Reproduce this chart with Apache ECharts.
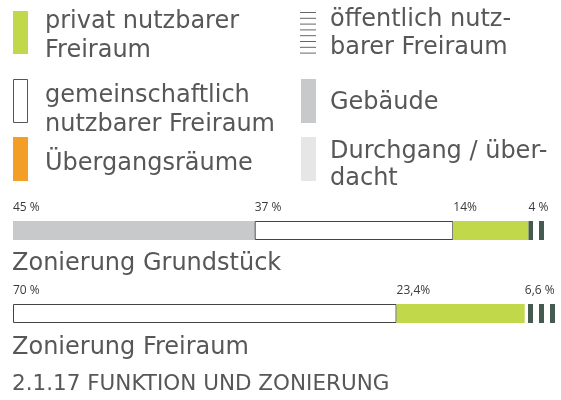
<!DOCTYPE html>
<html>
<head>
<meta charset="utf-8">
<script src="https://cdn.jsdelivr.net/npm/echarts@6/dist/echarts.min.js"></script>
<style>
  html, body { margin: 0; padding: 0; background: #fff; }
  #chart { width: 561px; height: 400px; }
</style>
</head>
<body>
<div id="chart"></div>
<script>
// Daten
var grundstueckZonen = ['Gebäude', 'gemeinschaftlich', 'privat', 'öffentlich'];
var grundstueckWerte = [45, 37, 14, 4];
var grundstueckLabels = ['45 %', '37 %', '14%', '4 %'];

var freiraumZonen = ['gemeinschaftlich', 'privat', 'öffentlich'];
var freiraumWerte = [70, 23.4, 6.6];
var freiraumLabels = ['70 %', '23,4%', '6,6 %'];

// gestreifte Fläche für "öffentlich"
var streifen = document.createElement('canvas');
streifen.width = 11;
streifen.height = 4;
var sctx = streifen.getContext('2d');
sctx.fillStyle = '#ffffff';
sctx.fillRect(0, 0, 11, 4);
sctx.fillStyle = '#455a50';
sctx.fillRect(0, 0, 5, 4);

var stile = {
  'Gebäude': { color: '#c8c9cb' },
  'gemeinschaftlich': { color: '#ffffff', borderColor: '#444', borderWidth: 1 },
  'privat': { color: '#c2d84b' },
  'öffentlich': { color: { image: streifen, repeat: 'repeat' } }
};

var LEGENDE_FONT = 'DejaVu Sans';
var textFarbe = '#575757';

function balken(zonen, werte, labels, idx) {
  return zonen.map(function (z, i) {
    return {
      type: 'bar',
      name: z,
      stack: 'zone' + idx,
      xAxisIndex: idx,
      yAxisIndex: idx,
      barWidth: 19,
      data: [werte[i]],
      itemStyle: stile[z],
      label: {
        show: true,
        position: [0, -19],
        formatter: labels[i],
        fontFamily: 'Open Sans',
        fontSize: 12,
        color: '#3a3a3a'
      }
    };
  });
}

var series = balken(grundstueckZonen, grundstueckWerte, grundstueckLabels, 0)
  .concat(balken(freiraumZonen, freiraumWerte, freiraumLabels, 1));

function txt(x, y, text, size, lh) {
  return {
    type: 'text', left: x, top: y,
    style: {
      text: text, fontFamily: LEGENDE_FONT, fontSize: size || 24,
      lineHeight: lh || 29, fill: textFarbe
    }
  };
}

var linien = [];
for (var k = 0; k < 8; k++) {
  linien.push({
    type: 'line',
    shape: { x1: 300, y1: 12.5 + k * 5.8, x2: 316, y2: 12.5 + k * 5.8 },
    style: { stroke: '#666', lineWidth: 1 }
  });
}

var chart = echarts.init(document.getElementById('chart'), null, { renderer: 'canvas' });
chart.setOption({
  animation: false,
  backgroundColor: '#fff',
  grid: [
    { left: 13, top: 221, width: 537, height: 19 },
    { left: 13, top: 304, width: 548, height: 19 }
  ],
  xAxis: [
    { type: 'value', min: 0, max: 100, show: false, gridIndex: 0 },
    { type: 'value', min: 0, max: 100, show: false, gridIndex: 1 }
  ],
  yAxis: [
    { type: 'category', data: ['Grundstück'], show: false, gridIndex: 0 },
    { type: 'category', data: ['Freiraum'], show: false, gridIndex: 1 }
  ],
  graphic: [
    // Legende links
    { type: 'rect', shape: { x: 13, y: 11, width: 15, height: 43 }, style: { fill: '#c2d84b' } },
    { type: 'rect', shape: { x: 13.5, y: 79.5, width: 14, height: 43 }, style: { fill: '#fff', stroke: '#555', lineWidth: 1 } },
    { type: 'rect', shape: { x: 13, y: 137, width: 15, height: 44 }, style: { fill: '#f29e27' } },
    txt(45, 7.5, 'privat nutzbarer\nFreiraum'),
    txt(45, 81, 'gemeinschaftlich\nnutzbarer Freiraum'),
    txt(45, 149, 'Übergangsräume'),
    // Legende rechts
    { type: 'rect', shape: { x: 301, y: 79, width: 15, height: 44 }, style: { fill: '#c8c9cb' } },
    { type: 'rect', shape: { x: 301, y: 137, width: 15, height: 44 }, style: { fill: '#e6e6e6' } },
    txt(330, 5.5, 'öffentlich nutz-\nbarer Freiraum', 24, 28),
    txt(330, 88.5, 'Gebäude', 24, 28),
    txt(330, 138, 'Durchgang / über-\ndacht', 24, 27),
    // Beschriftungen
    txt(12, 250, 'Zonierung Grundstück', 24, 28),
    txt(12, 334, 'Zonierung Freiraum', 24, 28),
    txt(12, 371, '2.1.17 FUNKTION UND ZONIERUNG', 21.5, 26)
  ].concat(linien),
  series: series
});
</script>
</body>
</html>
